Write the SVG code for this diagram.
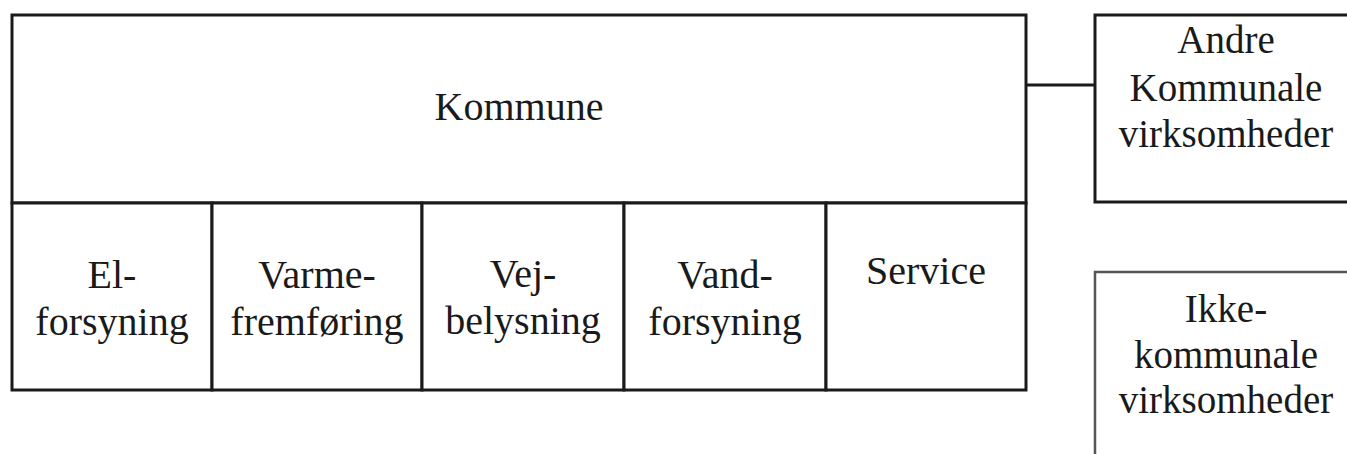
<svg xmlns="http://www.w3.org/2000/svg" width="1347" height="454" viewBox="0 0 1347 454">
<style>
.box{fill:#fff;stroke:#1a1a1a;stroke-width:3}
.gbox{fill:#fff;stroke:#555;stroke-width:2.5}
.ln{stroke:#1a1a1a;stroke-width:3;fill:none}
text{font-family:"Liberation Serif","Times New Roman",serif;font-size:40px;fill:#1a1a1a;text-anchor:middle}
.r{font-size:39px}
</style>
<rect width="1347" height="454" fill="#fff"/>
<g id="kommune">
<rect class="box" x="12" y="15" width="1014" height="188"/>
<text x="519" y="120">Kommune</text>
</g>
<g id="el">
<rect class="box" x="12" y="203" width="200" height="187"/>
<text x="112" y="288">El-</text>
<text x="112" y="335">forsyning</text>
</g>
<g id="varme">
<rect class="box" x="212" y="203" width="210" height="187"/>
<text x="317" y="288">Varme-</text>
<text x="317" y="335">fremføring</text>
</g>
<g id="vej">
<rect class="box" x="422" y="203" width="202" height="187"/>
<text x="523" y="287">Vej-</text>
<text x="523" y="334">belysning</text>
</g>
<g id="vand">
<rect class="box" x="624" y="203" width="202" height="187"/>
<text x="725" y="288">Vand-</text>
<text x="725" y="335">forsyning</text>
</g>
<g id="service">
<rect class="box" x="826" y="203" width="200" height="187"/>
<text x="926" y="284">Service</text>
</g>
<g id="andre">
<rect class="box" x="1095" y="15" width="270" height="187"/>
<text class="r" x="1226" y="53">Andre</text>
<text class="r" x="1226" y="101">Kommunale</text>
<text class="r" x="1226" y="147">virksomheder</text>
</g>
<g id="ikke">
<rect class="gbox" x="1095" y="272" width="270" height="200"/>
<text class="r" x="1226" y="322">Ikke-</text>
<text class="r" x="1226" y="368">kommunale</text>
<text class="r" x="1226" y="413">virksomheder</text>
</g>
<g id="connectors">
<line class="ln" x1="1026" y1="85" x2="1095" y2="85"/>
</g>
</svg>
